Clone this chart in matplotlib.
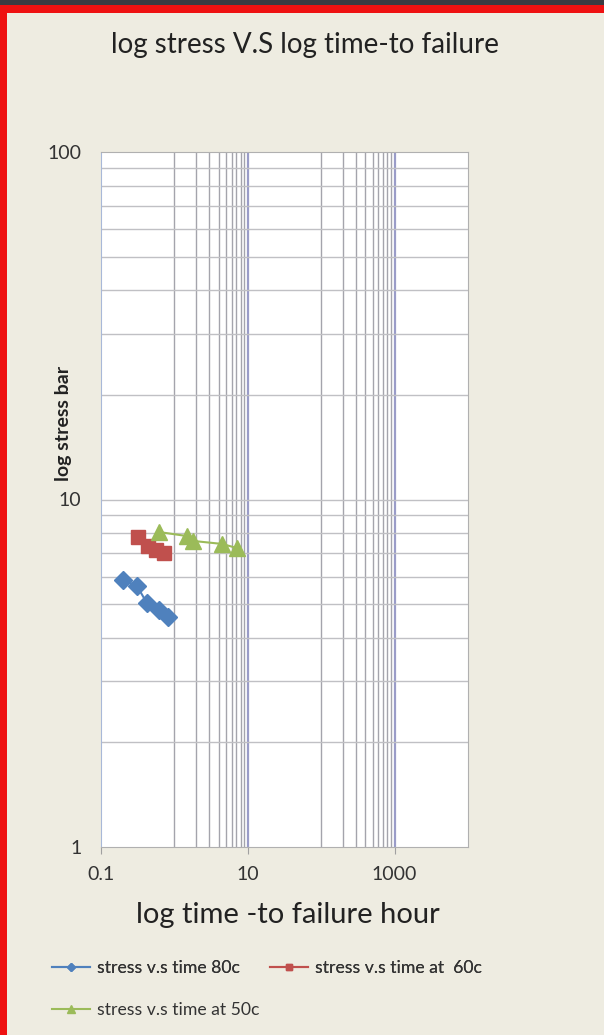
import matplotlib
matplotlib.use("Agg")
import matplotlib.pyplot as plt
from matplotlib.patches import Rectangle
from matplotlib.ticker import FixedLocator, NullFormatter

# Data
t80 = [0.20, 0.31, 0.42, 0.62, 0.82]
s80 = [5.87, 5.64, 5.04, 4.81, 4.59]
t60 = [0.32, 0.44, 0.56, 0.72]
s60 = [7.8, 7.35, 7.16, 7.0]
t50 = [0.62, 1.48, 1.79, 4.45, 7.1]
s50 = [8.06, 7.85, 7.6, 7.45, 7.25]

labels = ["stress v.s time 80c", "stress v.s time at  60c", "stress v.s time at 50c"]
x_major = [0.1, 10, 1000]
x_major_lbl = ["0.1", "10", "1000"]
y_major = [1, 10, 100]
y_major_lbl = ["1", "10", "100"]

W, H = 604, 1035
bg = "#EEECE1"
fig = plt.figure(figsize=(W / 100, H / 100), dpi=100, facecolor=bg)
font = ["Lato", "DejaVu Sans"]
plt.rcParams['font.family'] = font

# top dark strip and red border
fig.patches.append(Rectangle((0, 1 - 5 / H), 1, 5 / H, transform=fig.transFigure,
                             facecolor="#3a3b42", edgecolor="none", zorder=0))
fig.patches.append(Rectangle((0, 1 - 13 / H), 1, 8 / H, transform=fig.transFigure,
                             facecolor="#ee1111", edgecolor="none", zorder=0))
fig.patches.append(Rectangle((0, 0), 7 / W, 1 - 5 / H, transform=fig.transFigure,
                             facecolor="#ee1111", edgecolor="none", zorder=0))

left, right, top, bottom = 101, 468, 152, 847
ax = fig.add_axes([left / W, 1 - bottom / H, (right - left) / W, (bottom - top) / H])
ax.set_facecolor("white")
ax.set_xscale("log")
ax.set_yscale("log")
ax.set_xlim(0.1, 10000)
ax.set_ylim(1, 100)

# gridlines
xminor = [1, 2, 3, 4, 5, 6, 7, 8, 9, 100, 200, 300, 400, 500, 600, 700, 800, 900]
for v in xminor:
    ax.axvline(v, color="#a4a4ac", lw=1.0, zorder=1)
for v in [10, 1000]:
    ax.axvline(v, color="#9a9cc8", lw=1.6, zorder=1)
ymin = [2, 3, 4, 5, 6, 7, 8, 9, 20, 30, 40, 50, 60, 70, 80, 90, 10]
for v in ymin:
    ax.axhline(v, color="#c0c0c4", lw=1.0, zorder=1)

ax.xaxis.set_major_locator(FixedLocator(x_major))
ax.set_xticklabels(x_major_lbl)
ax.xaxis.set_minor_locator(FixedLocator([]))
ax.xaxis.set_minor_formatter(NullFormatter())
ax.yaxis.set_major_locator(FixedLocator(y_major))
ax.set_yticklabels(y_major_lbl)
ax.yaxis.set_minor_locator(FixedLocator([]))
ax.yaxis.set_minor_formatter(NullFormatter())
ax.tick_params(axis="x", length=5, color="#a0a0a0", labelsize=14, labelcolor="#333333", pad=9)
ax.tick_params(axis="y", length=0, labelsize=14, labelcolor="#333333", pad=14)

for s in ["top", "right", "bottom"]:
    ax.spines[s].set_color("#b0b0b0")
ax.spines["left"].set_color("#a8b8d8")

l1, = ax.plot(t80, s80, color="#4F81BD", marker="D", ms=9, lw=1.5, zorder=3)
l2, = ax.plot(t60, s60, color="#C0504D", marker="s", ms=10, lw=1.5, zorder=3)
l3, = ax.plot(t50, s50, color="#9BBB59", marker="^", ms=11, lw=1.5, zorder=4)

fig.text(305 / W, 1 - 45 / H, "log stress V.S log time-to failure", ha="center", va="center",
         fontsize=20, color="#222222")
fig.text(288 / W, 1 - 915 / H, "log time -to failure hour", ha="center", va="center",
         fontsize=21, color="#222222")
fig.text(63 / W, 1 - 423 / H, "log stress bar", ha="center", va="center", rotation=90,
         fontsize=14, fontweight="bold", color="#222222")

lkw = dict(frameon=False, fontsize=12.7, handlelength=2.15, handletextpad=0.4,
           markerscale=0.5, borderaxespad=0, borderpad=0)
leg1 = fig.legend([l1, l2], labels[:2], loc="center left", bbox_to_anchor=(52 / W, 1 - 968 / H),
                  ncol=2, columnspacing=1.7, **lkw)
for t in leg1.get_texts():
    t.set_color("#333333")
leg2 = fig.legend([l3], labels[2:], loc="center left", bbox_to_anchor=(52 / W, 1 - 1010 / H), **lkw)
for t in leg2.get_texts():
    t.set_color("#333333")
fig.add_artist(leg1)

fig.savefig("out.png", dpi=100, facecolor=bg)
